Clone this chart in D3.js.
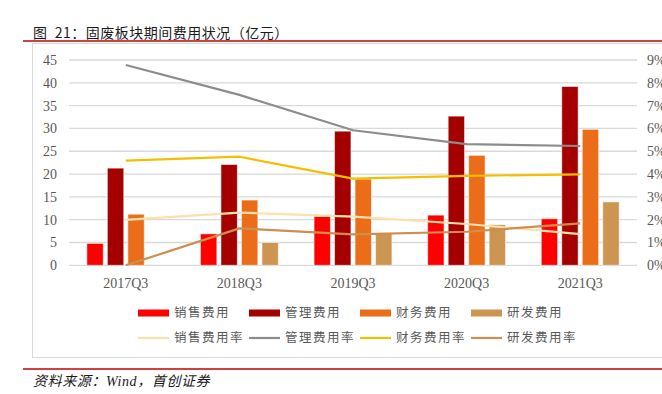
<!DOCTYPE html>
<html lang="zh">
<head>
<meta charset="UTF-8">
<title>固废板块期间费用状况</title>
<script src="https://cdn.jsdelivr.net/npm/d3@7"></script>
<style>
  body { margin: 0; background: #fff; }
  svg { display: block; }
  .num { font-family: "Liberation Serif", "Times New Roman", serif; font-size: 14px; fill: #595959; }
  .cjk { font-family: "Noto Sans CJK SC", sans-serif; }
</style>
</head>
<body>
<script>
// data
const quarters = ["2017Q3", "2018Q3", "2019Q3", "2020Q3", "2021Q3"];
const costNames = ["销售费用", "管理费用", "财务费用", "研发费用"];
const rateNames = ["销售费用率", "管理费用率", "财务费用率", "研发费用率"];
const salesCost   = [4.8, 6.9, 10.7, 11.0, 10.2];
const adminCost   = [21.3, 22.1, 29.4, 32.7, 39.2];
const financeCost = [11.2, 14.3, 18.9, 24.1, 29.8];
const rdCost      = [0, 5.0, 7.0, 8.9, 13.9];
const salesRate   = [1.99, 2.31, 2.13, 1.81, 1.37];
const adminRate   = [8.78, 7.47, 5.92, 5.31, 5.23];
const financeRate = [4.59, 4.76, 3.80, 3.92, 3.99];
const rdRate      = [0, 1.62, 1.36, 1.47, 1.84];
const leftTicks = [0, 5, 10, 15, 20, 25, 30, 35, 40, 45];
const rightTicks = [0, 1, 2, 3, 4, 5, 6, 7, 8, 9];

const costs = [salesCost, adminCost, financeCost, rdCost];
const rates = [salesRate, adminRate, financeRate, rdRate];
const barColors = ["#ff0000", "#a50000", "#ec6d19", "#cd9552"];
const lineColors = ["#fce0ad", "#8c8c8c", "#f2c000", "#cc8f4f"];

const W = 662, H = 394;
const svg = d3.select("body").append("svg").attr("width", W).attr("height", H);

// title + red rules
svg.append("text").attr("class", "cjk").attr("x", 33).attr("y", 38)
  .attr("font-size", 14).attr("fill", "#1a1a1a").attr("letter-spacing", 0.5)
  .attr("xml:space", "preserve")
  .text("图  21：固废板块期间费用状况（亿元）");
svg.append("line").attr("x1", 23).attr("x2", W).attr("y1", 41).attr("y2", 41)
  .attr("stroke", "#c00000").attr("stroke-width", 1.5);

// chart frame
svg.append("rect").attr("x", 32.5).attr("y", 43.5).attr("width", W).attr("height", 314)
  .attr("fill", "none").attr("stroke", "#d9d9d9");

const plot = { left: 69, right: 637, top: 60, bottom: 265.3 };

const x0 = d3.scaleBand().domain(quarters).range([plot.left, plot.right])
  .paddingInner(0.3).paddingOuter(0.15);
const x1 = d3.scaleBand().domain(d3.range(4)).range([0, x0.bandwidth()])
  .paddingInner(0.2).paddingOuter(0.04);
const yL = d3.scaleLinear().domain([0, 45]).range([plot.bottom, plot.top]);
const yR = d3.scaleLinear().domain([0, 9]).range([plot.bottom, plot.top]);

// gridlines
svg.append("g").selectAll("line").data(leftTicks).join("line")
  .attr("x1", plot.left).attr("x2", plot.right)
  .attr("y1", d => yL(d)).attr("y2", d => yL(d))
  .attr("stroke", "#d9d9d9").attr("stroke-width", 1.3);

// left axis labels
svg.append("g").selectAll("text").data(leftTicks).join("text")
  .attr("class", "num").attr("x", 57).attr("y", d => yL(d)).attr("dy", "0.35em")
  .attr("text-anchor", "end").text(d => d);

// right axis labels (cut at the page edge, as in the source)
svg.append("g").selectAll("text").data(rightTicks).join("text")
  .attr("class", "num").attr("x", 647).attr("y", d => yR(d)).attr("dy", "0.35em")
  .attr("text-anchor", "start").text(d => d + "%");

// category labels
svg.append("g").selectAll("text").data(quarters).join("text")
  .attr("class", "num").attr("x", d => x0(d) + x0.bandwidth() / 2).attr("y", 288)
  .attr("text-anchor", "middle").text(d => d);

// bars
costs.forEach((vals, s) => {
  svg.append("g").selectAll("rect").data(vals).join("rect")
    .attr("x", (d, i) => x0(quarters[i]) + x1(s))
    .attr("width", x1.bandwidth())
    .attr("y", d => yL(d))
    .attr("height", d => yL(0) - yL(d))
    .attr("fill", barColors[s])
    .attr("stroke", "rgba(255,255,255,0.55)").attr("stroke-width", 1);
});

// rate lines
const line = d3.line()
  .x((d, i) => x0(quarters[i]) + x0.bandwidth() / 2)
  .y(d => yR(d));
rates.forEach((vals, s) => {
  svg.append("path").datum(vals).attr("d", line)
    .attr("fill", "none").attr("stroke", lineColors[s]).attr("stroke-width", 2.2)
    .attr("stroke-linejoin", "round");
});

// legend
const legX = [138, 249, 360, 471];
const leg1 = svg.append("g");
costNames.forEach((n, i) => {
  leg1.append("rect").attr("x", legX[i]).attr("y", 309.5).attr("width", 31).attr("height", 7)
    .attr("fill", barColors[i]);
  leg1.append("text").attr("class", "cjk").attr("x", legX[i] + 36).attr("y", 313).attr("dy", "0.35em")
    .attr("font-size", 12.5).attr("letter-spacing", 1.5).attr("fill", "#595959").text(n);
});
const leg2 = svg.append("g");
rateNames.forEach((n, i) => {
  leg2.append("line").attr("x1", legX[i]).attr("x2", legX[i] + 31).attr("y1", 338).attr("y2", 338)
    .attr("stroke", lineColors[i]).attr("stroke-width", 2.2);
  leg2.append("text").attr("class", "cjk").attr("x", legX[i] + 36).attr("y", 338).attr("dy", "0.35em")
    .attr("font-size", 12.5).attr("letter-spacing", 1.5).attr("fill", "#595959").text(n);
});

// bottom rule + source
svg.append("line").attr("x1", 23).attr("x2", W).attr("y1", 369).attr("y2", 369)
  .attr("stroke", "#c00000").attr("stroke-width", 1.5);
const src = svg.append("text").attr("x", 33).attr("y", 386).attr("font-size", 14)
  .attr("font-style", "italic").attr("fill", "#1a1a1a").attr("letter-spacing", 0.6);
src.append("tspan").attr("class", "cjk").text("资料来源：");
src.append("tspan").attr("font-family", "Liberation Serif, serif").text("Wind");
src.append("tspan").attr("class", "cjk").text("，首创证券");
</script>
</body>
</html>
